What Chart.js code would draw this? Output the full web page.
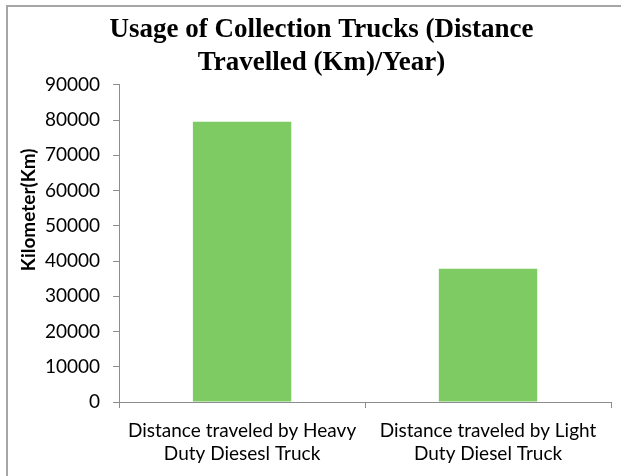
<!DOCTYPE html>
<html>
<head>
<meta charset="utf-8">
<script src="https://cdn.jsdelivr.net/npm/chart.js@4/dist/chart.umd.min.js"></script>
<style>
    html, body { margin: 0; padding: 0; background: #fff; }
    #wrap { width: 621px; height: 476px; position: relative; }
</style>
</head>
<body>
<div id="wrap"><canvas id="barChart"></canvas></div>
<script>
// ===============================================
// DATOS
// ===============================================
const categorias = [
    ["Distance traveled by Heavy", "Duty Diesesl Truck"],
    ["Distance traveled by Light", "Duty Diesel Truck"]
];
const distancias = [79500, 37800];
const tituloLineas = ["Usage of Collection Trucks (Distance", "Travelled (Km)/Year)"];
const tituloEjeY = "Kilometer(Km)";
const ejeY = { min: 0, max: 90000, paso: 10000 };

const GRIS_EJE = "#8c8c8c";
const VERDE = "#7dcb62";

// ===============================================
// MARCO (solo izquierda y arriba)
// ===============================================
const marco = {
    id: "marco",
    beforeDraw(chart) {
        const ctx = chart.ctx;
        ctx.save();
        ctx.strokeStyle = "#a6a6a6";
        ctx.lineWidth = 2;
        ctx.beginPath();
        ctx.moveTo(7, chart.height);
        ctx.lineTo(7, 6);
        ctx.lineTo(chart.width, 6);
        ctx.stroke();
        ctx.restore();
    }
};

// ===============================================
// TITULO DEL EJE Y (desplazado hacia arriba)
// ===============================================
const tituloY = {
    id: "tituloY",
    afterDraw(chart) {
        const area = chart.chartArea;
        const ctx = chart.ctx;
        ctx.save();
        ctx.translate(29, area.top + (area.bottom - area.top) * 0.394);
        ctx.rotate(-Math.PI / 2);
        ctx.font = "bold 19px Lato";
        ctx.fillStyle = "#000";
        ctx.textAlign = "center";
        ctx.textBaseline = "middle";
        ctx.fillText(tituloEjeY, 0, 0);
        ctx.restore();
    }
};

// ===============================================
// GRAFICA
// ===============================================
const ctxBar = document.getElementById("barChart").getContext("2d");

new Chart(ctxBar, {
    type: "bar",
    data: {
        labels: categorias,
        datasets: [{
            data: distancias,
            backgroundColor: VERDE,
            borderWidth: 0,
            categoryPercentage: 1,
            barPercentage: 0.4
        }]
    },
    options: {
        responsive: true,
        maintainAspectRatio: false,
        animation: false,
        layout: { padding: { left: 32, right: 10, top: 0, bottom: 0 } },
        plugins: {
            legend: { display: false },
            tooltip: { enabled: false },
            title: {
                display: true,
                text: tituloLineas,
                color: "#000",
                font: { family: "'Liberation Serif', 'Times New Roman', serif", size: 27, weight: "bold", lineHeight: 1.2 },
                padding: { top: 14, bottom: 6 }
            }
        },
        scales: {
            y: {
                min: ejeY.min,
                max: ejeY.max,
                ticks: {
                    stepSize: ejeY.paso,
                    color: "#000",
                    padding: 13,
                    font: { family: "Lato", size: 19 },
                    callback: v => String(v)
                },
                grid: {
                    display: true,
                    drawOnChartArea: false,
                    tickLength: 6,
                    color: GRIS_EJE
                },
                border: { display: true, color: GRIS_EJE, width: 1 }
            },
            x: {
                ticks: {
                    color: "#000",
                    padding: 11,
                    maxRotation: 0,
                    font: { family: "Lato", size: 19, lineHeight: 1.21 }
                },
                grid: {
                    display: true,
                    offset: true,
                    drawOnChartArea: false,
                    tickLength: 6,
                    color: GRIS_EJE
                },
                border: { display: true, color: GRIS_EJE, width: 1 }
            }
        }
    },
    plugins: [marco, tituloY]
});
</script>
</body>
</html>
